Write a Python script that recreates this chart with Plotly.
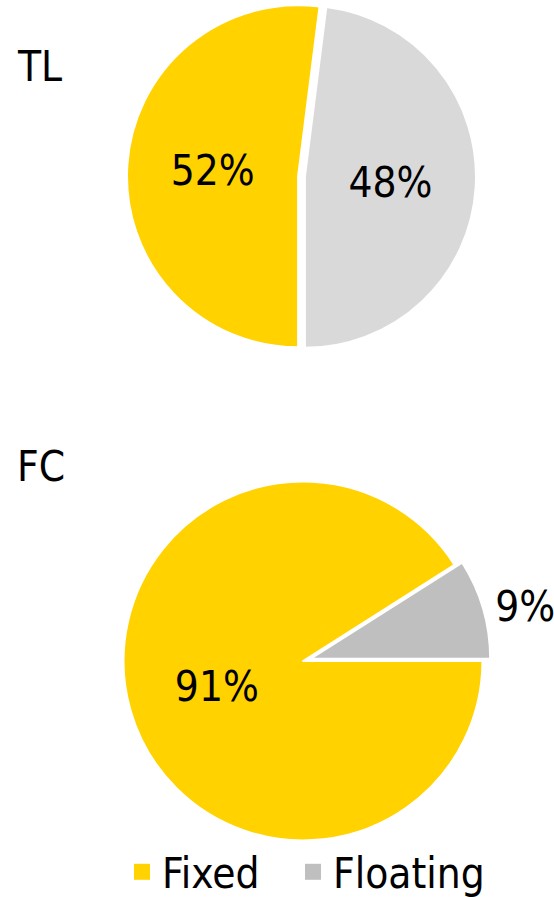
import plotly.graph_objects as go

categories = ["Fixed", "Floating"]
tl_values = [52, 48]
fc_values = [91, 9]
titles = ["TL", "FC"]

yellow = "#FFD200"
tl_colors = [yellow, "#D9D9D9"]
fc_colors = [yellow, "#BFBFBF"]
legend_colors = [yellow, "#BFBFBF"]

FONT = "DejaVu Sans Condensed, Liberation Sans Narrow, sans-serif"
FS = 42
W, H = 554, 910  # page window is 897 tall; extra room lets legend sit at the very bottom


def px_x(p):
    return p / W


def px_y(p):
    return 1 - p / H


fig = go.Figure()

fig.add_trace(go.Pie(
    labels=categories, values=tl_values, sort=False, direction="counterclockwise",
    rotation=180, pull=[0.02, 0.02],
    marker=dict(colors=tl_colors, line=dict(color="white", width=2)),
    texttemplate="%{percent:.0%}", textposition="inside", insidetextorientation="horizontal",
    textfont=dict(family=FONT, size=FS, color="black"),
    domain=dict(x=[px_x(127), px_x(476)], y=[px_y(351), px_y(2)]),
    showlegend=False, hoverinfo="label+percent",
))

fig.add_trace(go.Pie(
    labels=categories, values=fc_values, sort=False, direction="counterclockwise",
    rotation=90, pull=[0, 0.045],
    marker=dict(colors=fc_colors, line=dict(color="white", width=2)),
    texttemplate="%{percent:.0%}", textposition=["inside", "outside"], insidetextorientation="horizontal",
    textfont=dict(family=FONT, size=FS, color="black"),
    domain=dict(x=[px_x(115.5), px_x(490.5)], y=[px_y(848.5), px_y(473.5)]),
    showlegend=False, hoverinfo="label+percent",
))

for i, (name, col) in enumerate(zip(categories, legend_colors)):
    fig.add_trace(go.Scatter(
        x=[None], y=[None], mode="markers", name=name,
        marker=dict(symbol="square", size=22, color=col),
        showlegend=True, legendwidth=126 if i == 0 else None,
    ))

title_y = [66.5, 467]
for t, yy in zip(titles, title_y):
    fig.add_annotation(
        text=t, x=px_x(15), y=px_y(yy), xref="paper", yref="paper",
        xanchor="left", yanchor="middle", showarrow=False,
        font=dict(family=FONT, size=FS, color="black"),
    )

fig.update_layout(
    width=W, height=H,
    margin=dict(l=0, r=0, t=0, b=0, autoexpand=False),
    paper_bgcolor="white", plot_bgcolor="white",
    xaxis=dict(visible=False), yaxis=dict(visible=False),
    legend=dict(
        orientation="h", x=px_x(122), xanchor="left", y=px_y(872), yanchor="middle",
        font=dict(family=FONT, size=FS, color="black"),
        bgcolor="rgba(0,0,0,0)",
    ),
)

fig.write_html(
    "out.html",
    config={"displayModeBar": False},
    post_script="document.body.style.margin='0';document.body.style.overflow='hidden';",
)
